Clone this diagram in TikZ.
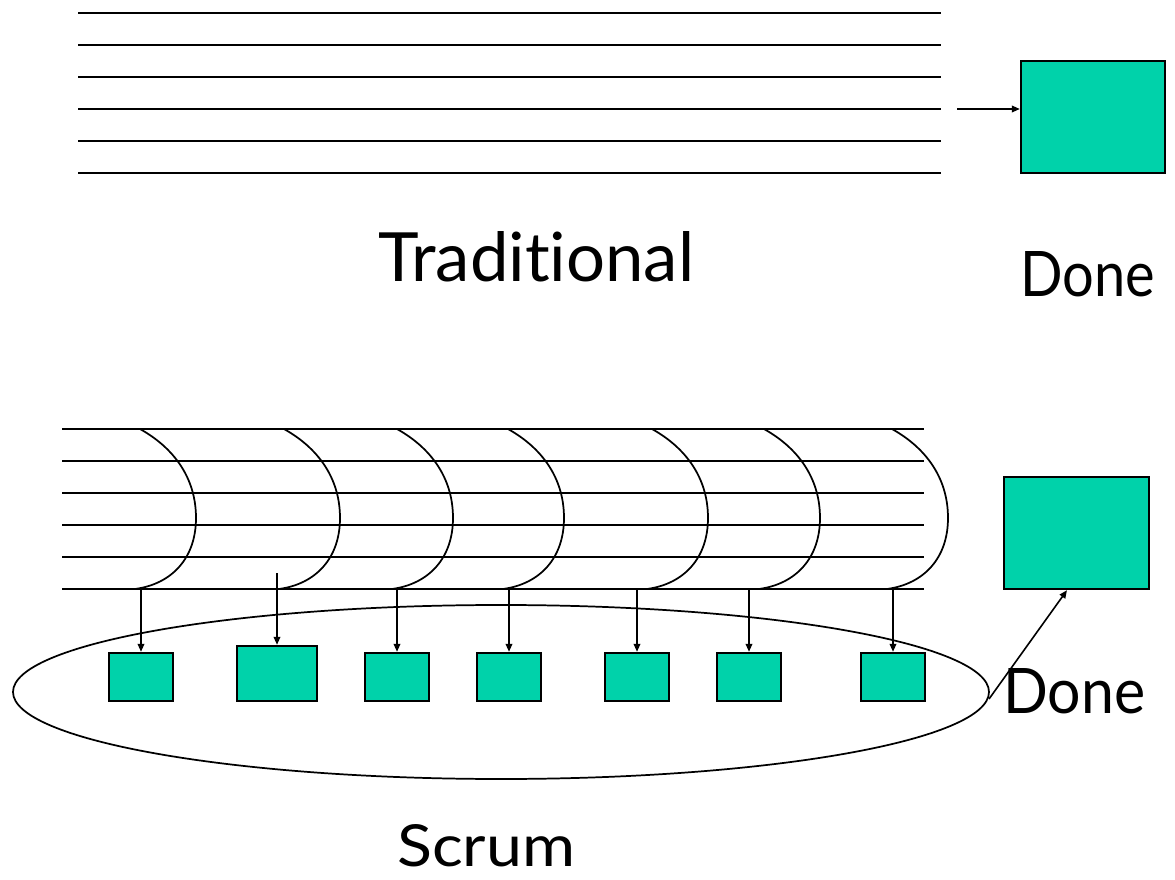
\documentclass[tikz,border=0pt]{standalone}
\usepackage{fontspec}
\setmainfont[Ligatures=NoCommon]{Lato}
\usetikzlibrary{arrows.meta,shapes.geometric,calc}
\definecolor{boxfill}{RGB}{0,210,170}
\begin{document}
\begin{tikzpicture}[x=0.75pt,y=-0.75pt,
  track/.style={line width=1.4pt},
  cut/.style={line width=1.3pt},
  feed/.style={line width=1.2pt,-{Triangle[length=6pt,width=5pt]}},
  task/.style={draw,line width=1.8pt,fill=boxfill,inner sep=0pt,
               minimum width=48pt,minimum height=36pt},
  bigtask/.style={task,minimum width=60pt,minimum height=41.25pt},
  result/.style={draw,line width=1.8pt,fill=boxfill,inner sep=0pt,
                 minimum width=108pt,minimum height=84pt},
  label/.style={inner sep=0pt,anchor=base west}
]
\useasboundingbox (0,0) rectangle (1175,880);

% ---- traditional: one long stream of work ----
\foreach \y in {13,45,77,109,141,173}
  \draw[track] (78,\y) -- (941,\y);
\coordinate (tradend) at (957,109);
\node[result] (done1) at (1093,117) {};
\draw[feed] (tradend) -- (done1.west |- tradend);
\node[label] (tradlbl) at (378,282) {\resizebox{237pt}{37.5pt}{Traditional}};
\node[label] (donelbl1) at (1020,297) {\resizebox{101pt}{33.75pt}{Done}};

% ---- scrum: the stream cut into sprints ----
\foreach \y in {429,461,493,525,557,589}
  \draw[track] (62,\y) -- (924,\y);
\foreach \x in {140,284,397,508,652,764,892}
  \draw[cut] (\x,429) .. controls (\x+34,448) and (\x+56,478) .. (\x+56,518)
             .. controls (\x+56,558) and (\x+32,584) .. (\x-5,589);

\node[draw,ellipse,line width=1.3pt,inner sep=0pt,
      minimum width=732pt,minimum height=130.5pt] (sprints) at (501,692) {};

\node[task]    (s1) at (141,677) {};
\node[bigtask] (s2) at (277,673.5) {};
\node[task]    (s3) at (397,677) {};
\node[task]    (s4) at (509,677) {};
\node[task]    (s5) at (637,677) {};
\node[task]    (s6) at (749,677) {};
\node[task]    (s7) at (893,677) {};

\coordinate (c1) at (141,589);
\coordinate (c2) at (277,573);
\coordinate (c3) at (397,589);
\coordinate (c4) at (509,589);
\coordinate (c5) at (637,589);
\coordinate (c6) at (749,589);
\coordinate (c7) at (893,589);
\foreach \i in {1,...,7}
  \draw[feed] (c\i) -- (s\i.north);

\node[result,minimum width=108.75pt] (done2) at (1076.5,533) {};
\coordinate (sprintout) at (989,699);
\draw[feed] (sprintout) -- ($(done2.south)+(-9.5,0)$);

\node[label] (donelbl2) at (1003,713) {\resizebox{106.5pt}{33.75pt}{Done}};
\node[label] (scrumlbl) at (397,866) {\resizebox{133.5pt}{31.5pt}{Scrum}};
\end{tikzpicture}
\end{document}
